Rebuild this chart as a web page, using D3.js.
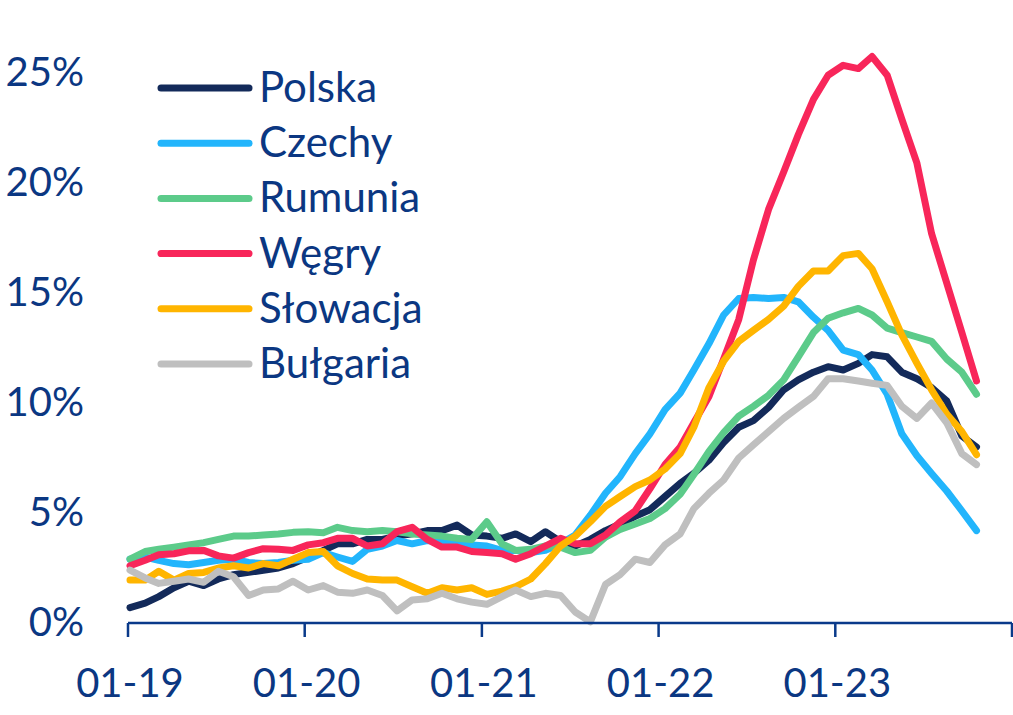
<!DOCTYPE html>
<html>
<head>
<meta charset="utf-8">
<script src="https://cdn.jsdelivr.net/npm/d3@7"></script>
<style>
  html, body { margin: 0; padding: 0; background: #fff; }
  svg { display: block; }
  text { font-family: Lato, "Open Sans", sans-serif; fill: #0b3782; }
</style>
</head>
<body>
<svg id="chart" width="1013" height="715"></svg>
<script>
// monthly values, 01-2019 .. 10-2023 (58 points), in %
const polska = [
  0.7, 0.9, 1.2, 1.6, 1.9, 1.7, 2.0, 2.2, 2.3, 2.4, 2.5, 2.7,
  3.0, 3.3, 3.6, 3.6, 3.8, 3.8, 3.95, 4.05, 4.2, 4.2, 4.45, 4.0,
  3.95, 3.85, 4.05, 3.7, 4.15, 3.7, 3.5, 3.8, 4.2, 4.5, 4.85, 5.15,
  5.75, 6.35, 6.8, 7.4, 8.2, 8.9, 9.2, 9.8, 10.6, 11.05, 11.4, 11.65,
  11.5, 11.8, 12.2, 12.1, 11.4, 11.1, 10.7, 10.1, 8.5, 8.0
];
const czechy = [
  2.9, 3.0, 2.85, 2.7, 2.65, 2.75, 2.85, 2.9, 2.75, 2.7, 2.75, 2.85,
  2.9, 3.2, 3.0, 2.8, 3.35, 3.5, 3.75, 3.6, 3.75, 3.7, 3.6, 3.55,
  3.5, 3.3, 3.3, 3.2, 3.3, 3.6, 4.0, 4.9, 5.9, 6.65, 7.7, 8.6,
  9.7, 10.45, 11.5, 12.7, 14.0, 14.75, 14.8, 14.75, 14.8, 14.6, 13.9, 13.3,
  12.4, 12.2, 11.5, 10.4, 8.6, 7.6, 6.8, 6.0, 5.1, 4.2
];
const rumunia = [
  2.9, 3.25, 3.35, 3.45, 3.55, 3.65, 3.8, 3.95, 3.95, 4.0, 4.05, 4.12,
  4.15, 4.1, 4.35, 4.2, 4.15, 4.2, 4.15, 4.05, 4.0, 3.95, 3.85, 3.8,
  4.6, 3.6, 3.3, 3.35, 3.5, 3.45, 3.2, 3.3, 3.9, 4.25, 4.5, 4.75,
  5.2, 5.85, 6.75, 7.8, 8.65, 9.4, 9.85, 10.35, 11.05, 12.1, 13.2, 13.85,
  14.1, 14.3, 14.0, 13.4, 13.2, 13.0, 12.8, 12.0, 11.4, 10.4
];
const wegry = [
  2.6, 2.85, 3.1, 3.15, 3.28, 3.3, 3.05, 2.95, 3.2, 3.38, 3.35, 3.3,
  3.55, 3.65, 3.85, 3.85, 3.5, 3.6, 4.15, 4.35, 3.8, 3.45, 3.45, 3.25,
  3.2, 3.15, 2.9, 3.15, 3.5, 3.85, 3.6, 3.6, 4.0, 4.6, 5.1, 6.1,
  7.2, 8.0, 9.1, 10.3, 12.0, 13.8, 16.5, 18.8, 20.5, 22.2, 23.8, 24.9,
  25.35, 25.2, 25.75, 24.9, 22.9, 20.9, 17.7, 15.45, 13.2, 11.0
];
const slowacja = [
  1.95, 1.95, 2.35, 1.95, 2.25, 2.3, 2.5, 2.6, 2.5, 2.7, 2.6, 2.9,
  3.2, 3.25, 2.6, 2.25, 2.0, 1.95, 1.95, 1.65, 1.35, 1.6, 1.5, 1.6,
  1.3, 1.45, 1.65, 2.0, 2.7, 3.5, 3.95, 4.6, 5.3, 5.75, 6.2, 6.5,
  7.0, 7.7, 8.9, 10.7, 11.9, 12.8, 13.3, 13.8, 14.4, 15.3, 16.0, 16.0,
  16.7, 16.8, 16.1, 14.6, 13.1, 11.8, 10.6, 9.5, 8.7, 7.65
];
const bulgaria = [
  2.4, 2.05, 1.8, 1.9, 2.0, 1.85, 2.35, 2.1, 1.25, 1.5, 1.55, 1.9,
  1.5, 1.7, 1.4, 1.35, 1.5, 1.25, 0.55, 1.05, 1.1, 1.35, 1.1, 0.95,
  0.85, 1.2, 1.5, 1.2, 1.35, 1.25, 0.5, 0.05, 1.75, 2.2, 2.9, 2.75,
  3.55, 4.05, 5.2, 5.9, 6.5, 7.5, 8.1, 8.7, 9.3, 9.8, 10.3, 11.1,
  11.1, 11.0, 10.9, 10.8, 9.85, 9.3, 10.0, 9.1, 7.7, 7.2
];

const seriesNames = ['Polska', 'Czechy', 'Rumunia', 'Węgry', 'Słowacja', 'Bułgaria'];
const seriesColors = ['#132a5a', '#22b5fc', '#5ccb8a', '#f8265a', '#ffb500', '#bfbfbf'];
const seriesValues = [polska, czechy, rumunia, wegry, slowacja, bulgaria];

const yTicks = [0, 5, 10, 15, 20, 25];
const xTickDates = ['2019-01', '2020-01', '2021-01', '2022-01', '2023-01', '2024-01'];
const xTickLabels = ['01-19', '01-20', '01-21', '01-22', '01-23', ''];

const months = d3.timeMonths(new Date(2019, 0, 1), new Date(2023, 10, 1));
const parseMonth = d3.timeParse('%Y-%m');

const svg = d3.select('#chart');
const axisColor = '#0a3a8a';

// axis runs 01-19 .. 01-24; the series points in the original sit slightly
// wider than the axis months, so they get their own time scale
const xAxisScale = d3.scaleTime()
  .domain([parseMonth('2019-01'), parseMonth('2024-01')])
  .range([128, 1012]);
const x = d3.scaleTime()
  .domain([months[0], months[months.length - 1]])
  .range([130, 976.5]);
const y = d3.scaleLinear()
  .domain([0, 25])
  .range([623, 73]);

// y labels
svg.append('g')
  .selectAll('text')
  .data(yTicks)
  .join('text')
    .attr('x', 84)
    .attr('y', (d) => y(d) + 13)
    .attr('text-anchor', 'end')
    .attr('font-size', 40)
    .text((d) => d + '%');

// lines
const line = d3.line()
  .x((d, i) => x(months[i]))
  .y((d) => y(d));

svg.append('g')
  .selectAll('path')
  .data(seriesValues)
  .join('path')
    .attr('d', (d) => line(d))
    .attr('fill', 'none')
    .attr('stroke', (d, i) => seriesColors[i])
    .attr('stroke-width', 7)
    .attr('stroke-linejoin', 'round')
    .attr('stroke-linecap', 'round');

// x axis
const xAxis = svg.append('g');
xAxis.append('line')
  .attr('x1', xAxisScale.range()[0])
  .attr('x2', xAxisScale.range()[1])
  .attr('y1', y(0))
  .attr('y2', y(0))
  .attr('stroke', axisColor)
  .attr('stroke-width', 2.5);
xAxis.selectAll('.tick')
  .data(xTickDates)
  .join('line')
    .attr('class', 'tick')
    .attr('x1', (d) => xAxisScale(parseMonth(d)))
    .attr('x2', (d) => xAxisScale(parseMonth(d)))
    .attr('y1', y(0))
    .attr('y2', y(0) + 14)
    .attr('stroke', axisColor)
    .attr('stroke-width', 2.5);
xAxis.selectAll('.lbl')
  .data(xTickDates)
  .join('text')
    .attr('class', 'lbl')
    .attr('x', (d) => xAxisScale(parseMonth(d)) + 2)
    .attr('y', 697)
    .attr('text-anchor', 'middle')
    .attr('font-size', 40)
    .text((d, i) => xTickLabels[i]);

// legend
const legend = svg.append('g');
const legendY = d3.scalePoint().domain(seriesNames).range([88, 364]);
legend.selectAll('line')
  .data(seriesNames)
  .join('line')
    .attr('x1', 161)
    .attr('x2', 249)
    .attr('y1', (d) => legendY(d))
    .attr('y2', (d) => legendY(d))
    .attr('stroke', (d, i) => seriesColors[i])
    .attr('stroke-width', 7)
    .attr('stroke-linecap', 'round');
legend.selectAll('text')
  .data(seriesNames)
  .join('text')
    .attr('x', 259)
    .attr('y', (d) => legendY(d) + 14)
    .attr('font-size', 42)
    .text((d) => d);
</script>
</body>
</html>
